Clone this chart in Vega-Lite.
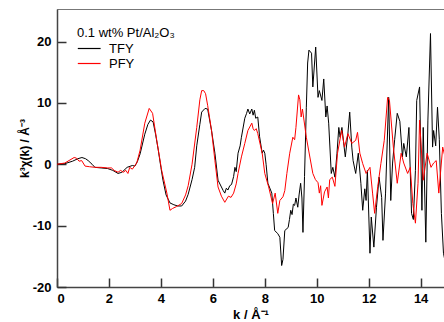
{
  "$schema": "https://vega.github.io/schema/vega-lite/v6.json",
  "width": 387,
  "height": 278,
  "autosize": "none",
  "padding": {"left": 57, "top": 9, "right": 0, "bottom": 35},
  "background": "white",
  "config": {
    "view": {"stroke": "#777", "strokeWidth": 1},
    "font": "Liberation Sans"
  },
  "data": {"values": [
{"s":"TFY","k":0,"v":0},{"s":"TFY","k":0.3,"v":0.1},{"s":"TFY","k":0.6,"v":0.5},{"s":"TFY","k":0.8,"v":0.9},{"s":"TFY","k":0.96,"v":1.1},{"s":"TFY","k":1.1,"v":0.9},{"s":"TFY","k":1.2,"v":0.6},{"s":"TFY","k":1.35,"v":0},{"s":"TFY","k":1.46,"v":-0.5},{"s":"TFY","k":1.7,"v":-0.6},{"s":"TFY","k":1.95,"v":-0.7},{"s":"TFY","k":2.15,"v":-1.0},{"s":"TFY","k":2.35,"v":-1.5},{"s":"TFY","k":2.5,"v":-1.3},{"s":"TFY","k":2.7,"v":-0.5},{"s":"TFY","k":2.9,"v":-0.2},{"s":"TFY","k":3.0,"v":-0.3},{"s":"TFY","k":3.1,"v":0.5},{"s":"TFY","k":3.2,"v":1.7},{"s":"TFY","k":3.38,"v":4.9},{"s":"TFY","k":3.5,"v":6.5},{"s":"TFY","k":3.6,"v":7.2},{"s":"TFY","k":3.7,"v":6.9},{"s":"TFY","k":3.8,"v":4.8},{"s":"TFY","k":3.9,"v":2.3},{"s":"TFY","k":4.0,"v":-0.5},{"s":"TFY","k":4.08,"v":-2.6},{"s":"TFY","k":4.2,"v":-5.0},{"s":"TFY","k":4.35,"v":-6.3},{"s":"TFY","k":4.5,"v":-6.6},{"s":"TFY","k":4.65,"v":-6.8},{"s":"TFY","k":4.8,"v":-6.8},{"s":"TFY","k":4.95,"v":-6.0},{"s":"TFY","k":5.05,"v":-4.9},{"s":"TFY","k":5.2,"v":-2.5},{"s":"TFY","k":5.3,"v":-0.5},{"s":"TFY","k":5.38,"v":3.0},{"s":"TFY","k":5.5,"v":6.5},{"s":"TFY","k":5.57,"v":8.5},{"s":"TFY","k":5.7,"v":9.1},{"s":"TFY","k":5.8,"v":9.0},{"s":"TFY","k":5.95,"v":5.5},{"s":"TFY","k":6.08,"v":1.8},{"s":"TFY","k":6.2,"v":-2.6},{"s":"TFY","k":6.33,"v":-3.7},{"s":"TFY","k":6.4,"v":-4.3},{"s":"TFY","k":6.46,"v":-4.7},{"s":"TFY","k":6.52,"v":-3.9},{"s":"TFY","k":6.58,"v":-4.2},{"s":"TFY","k":6.65,"v":-3.5},{"s":"TFY","k":6.72,"v":-3.3},{"s":"TFY","k":6.8,"v":-2.0},{"s":"TFY","k":6.85,"v":-0.5},{"s":"TFY","k":6.9,"v":-1.2},{"s":"TFY","k":6.97,"v":1.8},{"s":"TFY","k":7.05,"v":3.0},{"s":"TFY","k":7.1,"v":4.4},{"s":"TFY","k":7.23,"v":7.5},{"s":"TFY","k":7.3,"v":8.3},{"s":"TFY","k":7.35,"v":9.0},{"s":"TFY","k":7.42,"v":8.2},{"s":"TFY","k":7.5,"v":9.0},{"s":"TFY","k":7.55,"v":8.0},{"s":"TFY","k":7.6,"v":8.8},{"s":"TFY","k":7.65,"v":7.5},{"s":"TFY","k":7.73,"v":7.7},{"s":"TFY","k":7.8,"v":4.5},{"s":"TFY","k":7.9,"v":1.8},{"s":"TFY","k":7.95,"v":2.3},{"s":"TFY","k":8.0,"v":1.8},{"s":"TFY","k":8.05,"v":0},{"s":"TFY","k":8.12,"v":-3.1},{"s":"TFY","k":8.27,"v":-4.7},{"s":"TFY","k":8.33,"v":-8.0},{"s":"TFY","k":8.38,"v":-10.8},{"s":"TFY","k":8.5,"v":-11.3},{"s":"TFY","k":8.58,"v":-11.9},{"s":"TFY","k":8.65,"v":-16.5},{"s":"TFY","k":8.7,"v":-15.5},{"s":"TFY","k":8.77,"v":-10.8},{"s":"TFY","k":8.9,"v":-10.3},{"s":"TFY","k":8.95,"v":-9.0},{"s":"TFY","k":9.0,"v":-7.5},{"s":"TFY","k":9.05,"v":-8.2},{"s":"TFY","k":9.1,"v":-6.5},{"s":"TFY","k":9.15,"v":-6.7},{"s":"TFY","k":9.2,"v":-5.5},{"s":"TFY","k":9.27,"v":-7.0},{"s":"TFY","k":9.32,"v":-5.0},{"s":"TFY","k":9.38,"v":-3.1},{"s":"TFY","k":9.43,"v":-5.5},{"s":"TFY","k":9.47,"v":-11.1},{"s":"TFY","k":9.53,"v":-2.0},{"s":"TFY","k":9.6,"v":9.3},{"s":"TFY","k":9.65,"v":16.5},{"s":"TFY","k":9.7,"v":18.6},{"s":"TFY","k":9.8,"v":18.1},{"s":"TFY","k":9.85,"v":12.6},{"s":"TFY","k":9.96,"v":19.1},{"s":"TFY","k":10.05,"v":10.9},{"s":"TFY","k":10.1,"v":12.0},{"s":"TFY","k":10.2,"v":10.4},{"s":"TFY","k":10.27,"v":13.9},{"s":"TFY","k":10.35,"v":7.7},{"s":"TFY","k":10.4,"v":9.5},{"s":"TFY","k":10.46,"v":6.7},{"s":"TFY","k":10.56,"v":-1.5},{"s":"TFY","k":10.62,"v":-0.5},{"s":"TFY","k":10.7,"v":-2.1},{"s":"TFY","k":10.78,"v":1.8},{"s":"TFY","k":10.85,"v":6.0},{"s":"TFY","k":10.9,"v":4.4},{"s":"TFY","k":10.97,"v":6.0},{"s":"TFY","k":11.05,"v":3.0},{"s":"TFY","k":11.1,"v":1.2},{"s":"TFY","k":11.2,"v":5.0},{"s":"TFY","k":11.27,"v":8.5},{"s":"TFY","k":11.35,"v":2.8},{"s":"TFY","k":11.4,"v":0.6},{"s":"TFY","k":11.5,"v":-1.5},{"s":"TFY","k":11.6,"v":1.8},{"s":"TFY","k":11.7,"v":-3.1},{"s":"TFY","k":11.77,"v":-7.5},{"s":"TFY","k":11.85,"v":-4.0},{"s":"TFY","k":11.9,"v":-5.9},{"s":"TFY","k":11.95,"v":-1.0},{"s":"TFY","k":12.05,"v":-14.5},{"s":"TFY","k":12.1,"v":-8.6},{"s":"TFY","k":12.2,"v":-13.5},{"s":"TFY","k":12.3,"v":-7.0},{"s":"TFY","k":12.4,"v":-2.1},{"s":"TFY","k":12.5,"v":-5.4},{"s":"TFY","k":12.55,"v":-12.4},{"s":"TFY","k":12.65,"v":-4.7},{"s":"TFY","k":12.77,"v":10.9},{"s":"TFY","k":12.85,"v":-5.9},{"s":"TFY","k":12.92,"v":0.2},{"s":"TFY","k":13.0,"v":4.0},{"s":"TFY","k":13.1,"v":8.3},{"s":"TFY","k":13.2,"v":7.0},{"s":"TFY","k":13.3,"v":1.2},{"s":"TFY","k":13.35,"v":3.4},{"s":"TFY","k":13.45,"v":1.2},{"s":"TFY","k":13.55,"v":6.0},{"s":"TFY","k":13.65,"v":-8.0},{"s":"TFY","k":13.72,"v":-9.0},{"s":"TFY","k":13.8,"v":-1.0},{"s":"TFY","k":13.85,"v":10.4},{"s":"TFY","k":13.96,"v":12.6},{"s":"TFY","k":14.05,"v":-7.5},{"s":"TFY","k":14.1,"v":6.0},{"s":"TFY","k":14.2,"v":-12.7},{"s":"TFY","k":14.28,"v":7.2},{"s":"TFY","k":14.38,"v":21.3},{"s":"TFY","k":14.46,"v":2.8},{"s":"TFY","k":14.5,"v":5.5},{"s":"TFY","k":14.58,"v":3.0},{"s":"TFY","k":14.65,"v":9.3},{"s":"TFY","k":14.72,"v":4.0},{"s":"TFY","k":14.8,"v":-8.0},{"s":"TFY","k":14.88,"v":-14.5},{"s":"TFY","k":14.95,"v":-16},
{"s":"PFY","k":0,"v":0},{"s":"PFY","k":0.3,"v":0.2},{"s":"PFY","k":0.5,"v":0.7},{"s":"PFY","k":0.66,"v":1.1},{"s":"PFY","k":0.75,"v":1.0},{"s":"PFY","k":0.85,"v":0.5},{"s":"PFY","k":0.95,"v":0.6},{"s":"PFY","k":1.08,"v":-0.3},{"s":"PFY","k":1.25,"v":-0.4},{"s":"PFY","k":1.46,"v":-0.5},{"s":"PFY","k":1.7,"v":-0.5},{"s":"PFY","k":1.95,"v":-0.6},{"s":"PFY","k":2.1,"v":-0.6},{"s":"PFY","k":2.2,"v":-1.0},{"s":"PFY","k":2.35,"v":-1.3},{"s":"PFY","k":2.45,"v":-1.0},{"s":"PFY","k":2.55,"v":-1.3},{"s":"PFY","k":2.65,"v":-1.0},{"s":"PFY","k":2.73,"v":-1.5},{"s":"PFY","k":2.8,"v":-0.5},{"s":"PFY","k":2.9,"v":-0.8},{"s":"PFY","k":3.0,"v":-0.2},{"s":"PFY","k":3.07,"v":0.2},{"s":"PFY","k":3.2,"v":2.3},{"s":"PFY","k":3.38,"v":6.7},{"s":"PFY","k":3.55,"v":9.1},{"s":"PFY","k":3.68,"v":8.3},{"s":"PFY","k":3.84,"v":3.9},{"s":"PFY","k":4.03,"v":-1.0},{"s":"PFY","k":4.23,"v":-4.7},{"s":"PFY","k":4.35,"v":-7.5},{"s":"PFY","k":4.45,"v":-7.2},{"s":"PFY","k":4.6,"v":-6.9},{"s":"PFY","k":4.8,"v":-6.4},{"s":"PFY","k":4.95,"v":-5.0},{"s":"PFY","k":5.05,"v":-3.5},{"s":"PFY","k":5.2,"v":0.0},{"s":"PFY","k":5.38,"v":6.0},{"s":"PFY","k":5.5,"v":10.5},{"s":"PFY","k":5.57,"v":12.0},{"s":"PFY","k":5.65,"v":12.0},{"s":"PFY","k":5.72,"v":11.5},{"s":"PFY","k":5.8,"v":9.6},{"s":"PFY","k":5.95,"v":5.5},{"s":"PFY","k":6.08,"v":0.6},{"s":"PFY","k":6.2,"v":-3.7},{"s":"PFY","k":6.33,"v":-5.2},{"s":"PFY","k":6.46,"v":-6.2},{"s":"PFY","k":6.6,"v":-5.2},{"s":"PFY","k":6.7,"v":-5.4},{"s":"PFY","k":6.8,"v":-4.7},{"s":"PFY","k":6.9,"v":-3.2},{"s":"PFY","k":6.97,"v":-1.5},{"s":"PFY","k":7.1,"v":1.2},{"s":"PFY","k":7.23,"v":3.4},{"s":"PFY","k":7.35,"v":5.5},{"s":"PFY","k":7.5,"v":6.7},{"s":"PFY","k":7.55,"v":5.8},{"s":"PFY","k":7.6,"v":5.5},{"s":"PFY","k":7.67,"v":5.8},{"s":"PFY","k":7.73,"v":5.0},{"s":"PFY","k":7.9,"v":1.8},{"s":"PFY","k":8.0,"v":-1.5},{"s":"PFY","k":8.15,"v":-3.7},{"s":"PFY","k":8.3,"v":-6.4},{"s":"PFY","k":8.4,"v":-4.7},{"s":"PFY","k":8.5,"v":-8.0},{"s":"PFY","k":8.58,"v":-5.9},{"s":"PFY","k":8.7,"v":-5.3},{"s":"PFY","k":8.77,"v":-4.3},{"s":"PFY","k":8.85,"v":-1.5},{"s":"PFY","k":8.96,"v":1.8},{"s":"PFY","k":9.08,"v":4.4},{"s":"PFY","k":9.15,"v":4.0},{"s":"PFY","k":9.2,"v":6.0},{"s":"PFY","k":9.3,"v":11.3},{"s":"PFY","k":9.35,"v":10.5},{"s":"PFY","k":9.4,"v":7.7},{"s":"PFY","k":9.45,"v":9.0},{"s":"PFY","k":9.6,"v":4.4},{"s":"PFY","k":9.7,"v":2.0},{"s":"PFY","k":9.85,"v":-1.5},{"s":"PFY","k":9.95,"v":-2.5},{"s":"PFY","k":10.05,"v":-3.0},{"s":"PFY","k":10.1,"v":-4.7},{"s":"PFY","k":10.15,"v":-3.5},{"s":"PFY","k":10.2,"v":-6.7},{"s":"PFY","k":10.3,"v":-4.5},{"s":"PFY","k":10.4,"v":-3.7},{"s":"PFY","k":10.45,"v":-5.5},{"s":"PFY","k":10.5,"v":-2.5},{"s":"PFY","k":10.6,"v":-2.1},{"s":"PFY","k":10.7,"v":-3.6},{"s":"PFY","k":10.8,"v":1.8},{"s":"PFY","k":10.96,"v":5.5},{"s":"PFY","k":11.07,"v":2.8},{"s":"PFY","k":11.2,"v":5.0},{"s":"PFY","k":11.35,"v":3.4},{"s":"PFY","k":11.5,"v":3.9},{"s":"PFY","k":11.57,"v":5.2},{"s":"PFY","k":11.66,"v":1.8},{"s":"PFY","k":11.77,"v":0.1},{"s":"PFY","k":11.9,"v":-1.5},{"s":"PFY","k":12.05,"v":-0.5},{"s":"PFY","k":12.15,"v":-4.7},{"s":"PFY","k":12.23,"v":-8.0},{"s":"PFY","k":12.35,"v":-3.6},{"s":"PFY","k":12.47,"v":0.1},{"s":"PFY","k":12.6,"v":3.9},{"s":"PFY","k":12.73,"v":10.9},{"s":"PFY","k":12.8,"v":10.4},{"s":"PFY","k":12.95,"v":2.8},{"s":"PFY","k":13.1,"v":-3.1},{"s":"PFY","k":13.25,"v":1.8},{"s":"PFY","k":13.35,"v":0.2},{"s":"PFY","k":13.5,"v":-1.5},{"s":"PFY","k":13.6,"v":-0.5},{"s":"PFY","k":13.7,"v":-6.4},{"s":"PFY","k":13.8,"v":-9.6},{"s":"PFY","k":13.9,"v":-3.1},{"s":"PFY","k":13.96,"v":7.2},{"s":"PFY","k":14.1,"v":-2.6},{"s":"PFY","k":14.25,"v":1.8},{"s":"PFY","k":14.4,"v":-0.5},{"s":"PFY","k":14.5,"v":0.2},{"s":"PFY","k":14.6,"v":0.6},{"s":"PFY","k":14.7,"v":-4.7},{"s":"PFY","k":14.85,"v":2.8},{"s":"PFY","k":14.95,"v":1.0}
  ]},
  "mark": {"type": "line", "strokeWidth": 1, "clip": true},
  "encoding": {
    "x": {
      "field": "k", "type": "quantitative",
      "scale": {"domain": [0, 14.9], "nice": false, "zero": false},
      "axis": {
        "title": "k / Å⁻¹", "values": [0, 2, 4, 6, 8, 10, 12, 14],
        "grid": false, "tickSize": -9, "tickColor": "#333", "tickWidth": 1.5,
        "domainColor": "#444", "domainWidth": 1.5,
        "labelFontSize": 13, "labelFontWeight": "bold", "labelColor": "#000", "labelPadding": 14,
        "titleFontSize": 13, "titleFontWeight": "bold", "titleColor": "#000", "titlePadding": 3
      }
    },
    "y": {
      "field": "v", "type": "quantitative",
      "scale": {"domain": [-20, 25.3], "nice": false, "zero": false},
      "axis": {
        "title": "k³χ(k) / Å⁻³", "values": [-20, -10, 0, 10, 20],
        "labelExpr": "'' + datum.value",
        "grid": false, "tickSize": -9, "tickColor": "#333", "tickWidth": 1.5,
        "domainColor": "#444", "domainWidth": 1.5,
        "labelFontSize": 13, "labelFontWeight": "bold", "labelColor": "#000", "labelPadding": 15,
        "titleFontSize": 12, "titleFontWeight": "bold", "titleColor": "#000", "titlePadding": 1
      }
    },
    "color": {
      "field": "s", "type": "nominal",
      "scale": {"domain": ["TFY", "PFY"], "range": ["#000000", "#ff0000"]},
      "legend": {
        "title": "0.1 wt% Pt/Al₂O₃", "orient": "none", "legendX": 20, "legendY": 18,
        "titleFontSize": 13, "titleFontWeight": "normal", "titleColor": "#000", "titlePadding": 2,
        "labelFontSize": 13, "labelColor": "#000", "labelOffset": 19,
        "symbolType": "M-1,0H3", "symbolSize": 130, "symbolStrokeWidth": 1.2, "rowPadding": 1
      }
    }
  }
}
